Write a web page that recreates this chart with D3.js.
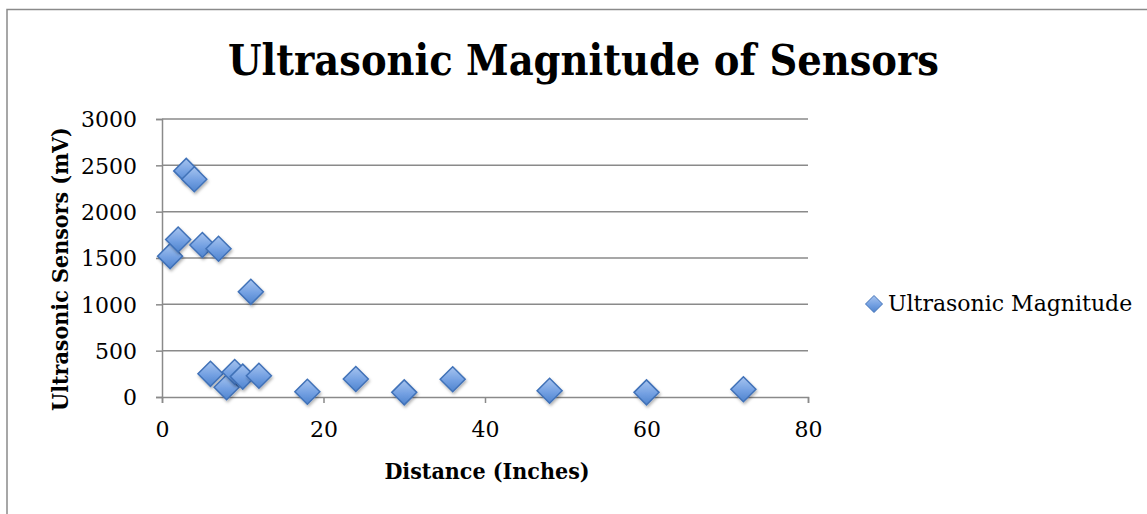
<!DOCTYPE html>
<html>
<head>
<meta charset="utf-8">
<script src="https://cdn.jsdelivr.net/npm/d3@7"></script>
<style>
  html, body { margin: 0; padding: 0; background: #fff; }
  svg { display: block; }
  text { font-family: "DejaVu Serif", "Liberation Serif", serif; fill: #000; }
  .cond { font-family: "DejaVu Serif Condensed", "DejaVu Serif", serif; font-stretch: condensed; }
</style>
</head>
<body>
<svg id="chart" width="1147" height="514"></svg>
<script>
// Distance from sensor (inches) and measured ultrasonic magnitude (mV)
const distances = [1, 2, 3, 4, 5, 6, 7, 8, 9, 10, 11, 12, 18, 24, 30, 36, 48, 60, 72];
const magnitudes = [1520, 1700, 2440, 2350, 1640, 250, 1600, 105, 270, 220, 1135, 230, 57, 194, 50, 191, 68, 50, 83];
const xTicks = [0, 20, 40, 60, 80];
const yTicks = [0, 500, 1000, 1500, 2000, 2500, 3000];
const seriesName = "Ultrasonic Magnitude";
const chartTitle = "Ultrasonic Magnitude of Sensors";
const xTitle = "Distance (Inches)";
const yTitle = "Ultrasonic Sensors (mV)";

const points = distances.map((d, i) => ({ x: d, y: magnitudes[i] }));

const svg = d3.select("#chart");
const plot = { left: 162, right: 808, top: 119, bottom: 397 };

const x = d3.scaleLinear().domain([0, 80]).range([plot.left, plot.right]);
const y = d3.scaleLinear().domain([0, 3000]).range([plot.bottom, plot.top]);

const defs = svg.append("defs");
const grad = defs.append("linearGradient")
  .attr("id", "markerFill").attr("x1", 0).attr("y1", 0).attr("x2", 0).attr("y2", 1);
grad.append("stop").attr("offset", "0%").attr("stop-color", "#a7c4ef");
grad.append("stop").attr("offset", "55%").attr("stop-color", "#73a0e2");
grad.append("stop").attr("offset", "100%").attr("stop-color", "#4f84ce");
const shadow = defs.append("filter").attr("id", "markerShadow")
  .attr("x", "-50%").attr("y", "-50%").attr("width", "200%").attr("height", "200%");
shadow.append("feDropShadow").attr("dx", 1).attr("dy", 2).attr("stdDeviation", 1.5)
  .attr("flood-color", "#000").attr("flood-opacity", 0.3);

// Outer chart frame
svg.append("rect")
  .attr("x", 7).attr("y", 9.5).attr("width", 1160).attr("height", 520)
  .attr("fill", "none").attr("stroke", "#8a8a8a").attr("stroke-width", 1.5);

// Title
svg.append("text")
  .attr("class", "cond")
  .attr("x", 583.5).attr("y", 75)
  .attr("text-anchor", "middle")
  .attr("font-weight", "bold").attr("font-size", 42.8)
  .text(chartTitle);

// Horizontal gridlines
svg.append("g").selectAll("line").data(yTicks.filter(t => t > 0)).join("line")
  .attr("x1", plot.left).attr("x2", plot.right)
  .attr("y1", d => y(d)).attr("y2", d => y(d))
  .attr("stroke", "#8a8a8a").attr("stroke-width", 1.5);

// Y axis
const yAxis = svg.append("g")
  .attr("transform", `translate(${plot.left},0)`)
  .call(d3.axisLeft(y).tickValues(yTicks).tickSize(6).tickPadding(19).tickFormat(d3.format("d")));
yAxis.select(".domain").attr("stroke", "#8a8a8a").attr("stroke-width", 1.5);
yAxis.selectAll(".tick line").attr("stroke", "#8a8a8a").attr("stroke-width", 1.5);
yAxis.selectAll(".tick text")
  .attr("font-family", "DejaVu Serif, serif")
  .attr("font-size", 22).attr("fill", "#000").attr("dy", "0.36em");

// X axis
const xAxis = svg.append("g")
  .attr("transform", `translate(0,${plot.bottom})`)
  .call(d3.axisBottom(x).tickValues(xTicks).tickSize(6).tickPadding(18).tickFormat(d3.format("d")));
xAxis.select(".domain").attr("stroke", "#8a8a8a").attr("stroke-width", 1.5);
xAxis.selectAll(".tick line").attr("stroke", "#8a8a8a").attr("stroke-width", 1.5);
xAxis.selectAll(".tick text")
  .attr("font-family", "DejaVu Serif, serif")
  .attr("font-size", 22).attr("fill", "#000").attr("dy", "0.72em");

// Axis titles
svg.append("text")
  .attr("class", "cond")
  .attr("x", 487).attr("y", 479)
  .attr("text-anchor", "middle").attr("font-weight", "bold").attr("font-size", 23)
  .text(xTitle);
svg.append("text")
  .attr("class", "cond")
  .attr("transform", "translate(68,269) rotate(-90)")
  .attr("text-anchor", "middle").attr("font-weight", "bold").attr("font-size", 23)
  .text(yTitle);

// Diamond markers
const diamond = r => `M0,${-r}L${r},0L0,${r}L${-r},0Z`;
svg.append("g").selectAll("path").data(points).join("path")
  .attr("transform", d => `translate(${x(d.x)},${y(d.y)})`)
  .attr("d", diamond(12.5))
  .attr("fill", "url(#markerFill)")
  .attr("stroke", "#4172b8").attr("stroke-width", 1.5)
  .attr("filter", "url(#markerShadow)");

// Legend
const legend = svg.append("g").attr("transform", "translate(874,304)");
legend.append("path")
  .attr("d", diamond(8.5))
  .attr("fill", "url(#markerFill)")
  .attr("stroke", "#4172b8").attr("stroke-width", 1);
legend.append("text")
  .attr("x", 14).attr("y", 7)
  .attr("font-size", 22)
  .text(seriesName);
</script>
</body>
</html>
